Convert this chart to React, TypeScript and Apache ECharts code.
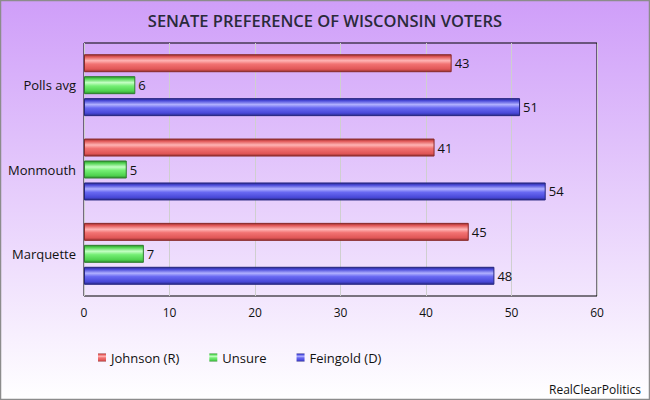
import React, { useEffect, useRef } from "react";
import * as echarts from "echarts";

const categories = ["Polls avg", "Monmouth", "Marquette"];
const johnson = [43, 41, 45];
const unsure = [6, 5, 7];
const feingold = [51, 54, 48];
const seriesNames = ["Johnson (R)", "Unsure", "Feingold (D)"];
const xTicks = { min: 0, max: 60, interval: 10 };

const FONT = "'Open Sans', 'DejaVu Sans', sans-serif";

function cyl(dark: string, base: string, light: string, edge: string) {
  return new echarts.graphic.LinearGradient(0, 0, 0, 1, [
    { offset: 0, color: edge },
    { offset: 0.12, color: dark },
    { offset: 0.35, color: light },
    { offset: 0.55, color: base },
    { offset: 0.85, color: dark },
    { offset: 1, color: edge },
  ]);
}

export default function App() {
  const ref = useRef<HTMLDivElement>(null);
  useEffect(() => {
    if (!ref.current) return;
    const chart = echarts.init(ref.current, null, { renderer: "svg" });
    const styles = [
      { fill: cyl("#e05656", "#f27272", "#ffb4b4", "#963030"), border: "#8a2b2b" },
      { fill: cyl("#4fd24f", "#74ee74", "#c4ffc4", "#2e8e2e"), border: "#2e7e2e" },
      { fill: cyl("#4848d8", "#6868f2", "#b0b0ff", "#2a2a8a"), border: "#262680" },
    ];
    const data = [johnson, unsure, feingold];
    chart.setOption({
      animation: false,
      backgroundColor: new echarts.graphic.LinearGradient(0, 0, 0, 1, [
        { offset: 0, color: "#cf9ef9" },
        { offset: 1, color: "#ffffff" },
      ]),
      textStyle: { fontFamily: FONT },
      title: {
        text: "SENATE PREFERENCE OF WISCONSIN VOTERS",
        left: "center",
        top: 7,
        textStyle: { fontFamily: FONT, fontSize: 16.5, fontWeight: 600, color: "#2a2a3a" },
      },
      graphic: [
        {
          type: "rect",
          shape: { x: 0.5, y: 0.5, width: 649, height: 399 },
          style: { fill: "none", stroke: "#8c8c8c", lineWidth: 1.5 },
          silent: true,
        },
        {
          type: "text",
          right: 9,
          bottom: 5,
          style: { text: "RealClearPolitics", font: `12px ${FONT}`, fill: "#111" },
        },
      ],
      legend: {
        left: 93,
        top: 346,
        itemWidth: 8,
        itemHeight: 8,
        itemGap: 30,
        icon: "rect",
        itemStyle: { borderWidth: 0 },
        textStyle: { fontFamily: FONT, fontSize: 13, color: "#111" },
        data: seriesNames,
      },
      grid: {
        left: 84,
        right: 53,
        top: 43,
        bottom: 104,
        show: true,
        borderColor: "#000",
        borderWidth: 1,
        backgroundColor: "transparent",
      },
      xAxis: {
        type: "value",
        min: xTicks.min,
        max: xTicks.max,
        interval: xTicks.interval,
        axisLine: { show: false },
        axisTick: { show: false },
        splitLine: { show: true, lineStyle: { color: "#cfcfcf", width: 1 } },
        axisLabel: { fontFamily: FONT, fontSize: 12, color: "#111", margin: 10 },
      },
      yAxis: {
        type: "category",
        data: categories,
        inverse: true,
        axisLine: { show: false },
        axisTick: { show: false },
        axisLabel: { fontFamily: FONT, fontSize: 13, color: "#111", margin: 8 },
      },
      series: seriesNames.map((name, i) => ({
        name,
        type: "bar",
        data: data[i],
        barWidth: 18,
        barGap: "22%",
        itemStyle: { color: styles[i].fill, borderColor: styles[i].border, borderWidth: 1 },
        label: {
          show: true,
          position: "right",
          distance: 3,
          fontFamily: FONT,
          fontSize: 13,
          color: "#111",
        },
      })),
    });
    return () => chart.dispose();
  }, []);
  return (
    <div
      ref={ref}
      style={{ position: "fixed", left: 0, top: 0, width: 650, height: 400 }}
    />
  );
}
